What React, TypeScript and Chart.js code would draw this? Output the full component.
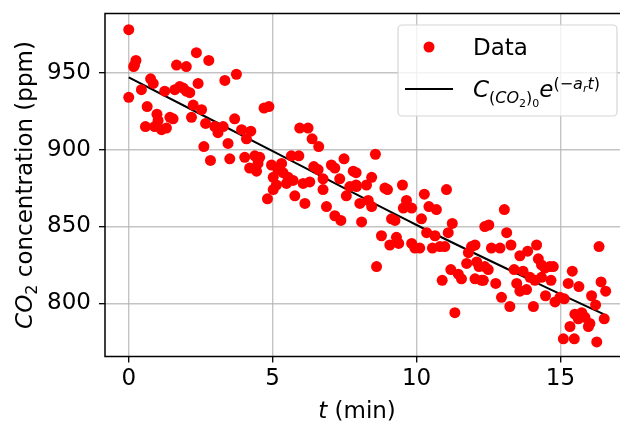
import React, { useEffect, useRef } from "react";
import { Chart, registerables } from "chart.js";
Chart.register(...registerables);

const timeMin = [
  0.0, 0.0, 0.17, 0.2, 0.25, 0.44, 0.58, 0.64, 0.76, 0.85, 0.9, 0.98, 1.02, 1.14, 1.25, 1.31, 1.43, 1.54, 1.6, 1.66,
  1.77, 1.89, 2.0, 2.0, 2.12, 2.18, 2.24, 2.35, 2.41, 2.53, 2.61, 2.67, 2.78, 2.84, 2.99, 3.1, 3.28, 3.34, 3.45, 3.51,
  3.68, 3.74, 3.92, 4.03, 4.09, 4.2, 4.24, 4.38, 4.44, 4.49, 4.55, 4.7, 4.82, 4.87, 4.96, 5.02, 5.02, 5.13, 5.19, 5.31,
  5.36, 5.48, 5.54, 5.65, 5.71, 5.77, 5.91, 5.94, 6.06, 6.12, 6.23, 6.29, 6.37, 6.43, 6.58, 6.6, 6.75, 6.75, 6.87, 7.04,
  7.16, 7.16, 7.33, 7.37, 7.48, 7.56, 7.68, 7.8, 7.9, 7.91, 7.9, 8.03, 8.09, 8.26, 8.32, 8.44, 8.44, 8.57, 8.61, 8.78,
  8.9, 8.99, 9.07, 9.13, 9.25, 9.3, 9.38, 9.51, 9.54, 9.65, 9.83, 9.83, 9.94, 10.11, 10.17, 10.27, 10.35, 10.43, 10.55, 10.64,
  10.69, 10.81, 10.89, 10.98, 11.04, 11.1, 11.19, 11.24, 11.33, 11.45, 11.56, 11.74, 11.8, 11.91, 12.03, 12.03, 12.09, 12.17, 12.26, 12.32,
  12.37, 12.37, 12.49, 12.51, 12.6, 12.75, 12.9, 12.95, 13.05, 13.13, 13.24, 13.28, 13.39, 13.48, 13.59, 13.59, 13.7, 13.82, 13.86, 13.94,
  14.06, 14.11, 14.17, 14.23, 14.34, 14.34, 14.46, 14.48, 14.63, 14.67, 14.75, 14.81, 14.98, 15.1, 15.13, 15.27, 15.33, 15.41, 15.48, 15.5,
  15.62, 15.64, 15.74, 15.85, 15.97, 16.02, 16.08, 16.22, 16.26, 16.34, 16.41, 16.52, 16.57,
];

const co2Ppm = [
  978, 934, 954, 955, 958, 939, 915, 928, 946, 943, 915, 923, 919, 913, 938, 914, 921, 920, 939, 955,
  941, 940, 938, 954, 937, 921, 929, 963, 943, 926, 902, 917, 958, 893, 915, 911, 915, 945, 904, 894,
  920, 949, 913, 895, 907, 888, 912, 896, 886, 891, 895, 927, 868, 928, 890, 874, 882, 877, 887, 891,
  885, 878, 882, 896, 880, 870, 896, 914, 878, 865, 914, 879, 907, 889, 887, 902, 881, 874, 863, 890,
  888, 857, 881, 854, 894, 870, 876, 886, 877, 876, 885, 865, 853, 877, 867, 882, 863, 897, 824, 844,
  875, 874, 838, 855, 854, 843, 839, 877, 862, 867, 862, 839, 836, 836, 855, 871, 846, 863, 836, 844,
  861, 837, 815, 837, 874, 846, 822, 852, 794, 819, 816, 826, 833, 837, 816, 838, 827, 824, 815, 815,
  850, 824, 822, 851, 836, 813, 836, 804, 861, 846, 798, 838, 822, 813, 808, 831, 821, 809, 834, 817,
  798, 815, 838, 829, 825, 817, 823, 805, 824, 815, 824, 801, 804, 777, 803, 813, 785, 821, 777, 793,
  790, 811, 794, 791, 785, 787, 805, 799, 775, 837, 814, 790, 808,
];

const fitTime = [0, 5, 10, 15, 16.5];
const fitPpm = [947, 899, 851, 806, 793];

const xTickValues = [0, 5, 10, 15];
const yTickValues = [800, 850, 900, 950];

const FONT = "'DejaVu Sans', sans-serif";

export default function App() {
  const ref = useRef<HTMLCanvasElement>(null);

  useEffect(() => {
    const canvas = ref.current!;

    const drawSeq = (
      ctx: CanvasRenderingContext2D,
      parts: { t: string; size: number; italic?: boolean; dy: number }[],
      x: number,
      y: number,
      align: "left" | "center"
    ) => {
      let total = 0;
      const widths = parts.map((p) => {
        ctx.font = `${p.italic ? "italic " : ""}${p.size}px ${FONT}`;
        const w = ctx.measureText(p.t).width;
        total += w;
        return w;
      });
      let cx = align === "center" ? x - total / 2 : x;
      ctx.textBaseline = "alphabetic";
      ctx.textAlign = "left";
      parts.forEach((p, i) => {
        ctx.font = `${p.italic ? "italic " : ""}${p.size}px ${FONT}`;
        ctx.fillText(p.t, cx, y + p.dy);
        cx += widths[i];
      });
    };

    const decor = {
      id: "decor",
      afterDatasetsDraw(chart: any) {
        const { ctx, chartArea } = chart;
        ctx.save();
        ctx.strokeStyle = "#000";
        ctx.lineWidth = 1.5;
        ctx.strokeRect(chartArea.left, chartArea.top, chartArea.right - chartArea.left, chartArea.bottom - chartArea.top);
        ctx.restore();
      },
      afterDraw(chart: any) {
        const ctx: CanvasRenderingContext2D = chart.ctx;
        ctx.save();
        ctx.fillStyle = "#000";
        // y title
        ctx.save();
        ctx.translate(32, 185);
        ctx.rotate(-Math.PI / 2);
        drawSeq(
          ctx,
          [
            { t: "CO", size: 23, italic: true, dy: 0 },
            { t: "2", size: 16, dy: 5 },
            { t: " concentration (ppm)", size: 23, dy: 0 },
          ],
          0,
          0,
          "center"
        );
        ctx.restore();
        // x title
        drawSeq(
          ctx,
          [
            { t: "t", size: 23, italic: true, dy: 0 },
            { t: " (min)", size: 23, dy: 0 },
          ],
          357,
          418,
          "center"
        );
        // legend box
        const bx = 398, by = 25, bw = 219, bh = 91, r = 4;
        ctx.beginPath();
        ctx.moveTo(bx + r, by);
        ctx.arcTo(bx + bw, by, bx + bw, by + bh, r);
        ctx.arcTo(bx + bw, by + bh, bx, by + bh, r);
        ctx.arcTo(bx, by + bh, bx, by, r);
        ctx.arcTo(bx, by, bx + bw, by, r);
        ctx.closePath();
        ctx.fillStyle = "rgba(255,255,255,0.8)";
        ctx.fill();
        ctx.strokeStyle = "#d6d6d6";
        ctx.lineWidth = 1.2;
        ctx.stroke();
        // data marker
        ctx.fillStyle = "#ff0000";
        ctx.beginPath();
        ctx.arc(429, 47, 5.5, 0, Math.PI * 2);
        ctx.fill();
        ctx.fillStyle = "#000";
        ctx.font = `23px ${FONT}`;
        ctx.textBaseline = "alphabetic";
        ctx.fillText("Data", 473, 55);
        // fit line marker
        ctx.strokeStyle = "#000";
        ctx.lineWidth = 2;
        ctx.beginPath();
        ctx.moveTo(405, 89);
        ctx.lineTo(453, 89);
        ctx.stroke();
        drawSeq(
          ctx,
          [
            { t: "C", size: 23, italic: true, dy: 0 },
            { t: "(", size: 16, dy: 6 },
            { t: "CO", size: 16, italic: true, dy: 6 },
            { t: "2", size: 11, dy: 10 },
            { t: ")", size: 16, dy: 6 },
            { t: "0", size: 11, dy: 10 },
            { t: "e", size: 23, italic: true, dy: 0 },
            { t: "(\u2212", size: 16, dy: -8 },
            { t: "a", size: 16, italic: true, dy: -8 },
            { t: "r", size: 11, italic: true, dy: -5 },
            { t: "t", size: 16, italic: true, dy: -8 },
            { t: ")", size: 16, dy: -8 },
          ],
          473,
          97,
          "left"
        );
        ctx.restore();
      },
    };

    const tickFont = { family: FONT, size: 23 };
    const zeroPad = (s: any) => {
      s.paddingTop = 0;
      s.paddingBottom = 0;
      s.paddingLeft = 0;
      s.paddingRight = 0;
    };

    const chart = new Chart(canvas, {
      type: "scatter",
      data: {
        datasets: [
          {
            label: "Data",
            data: timeMin.map((t, i) => ({ x: t, y: co2Ppm[i] })),
            backgroundColor: "#ff0000",
            borderWidth: 0,
            pointRadius: 5.5,
            pointHoverRadius: 5.5,
          },
          {
            label: "fit",
            data: fitTime.map((t, i) => ({ x: t, y: fitPpm[i] })),
            showLine: true,
            borderColor: "#000",
            borderWidth: 2,
            pointRadius: 0,
            tension: 0.4,
          },
        ],
      },
      options: {
        responsive: false,
        animation: false,
        events: [],
        layout: { autoPadding: false, padding: { left: 0, top: 13.5, right: 12.6, bottom: 0 } },
        plugins: { legend: { display: false }, tooltip: { enabled: false } },
        scales: {
          x: {
            type: "linear",
            min: -0.825,
            max: 17.325,
            afterBuildTicks: (axis: any) => {
              axis.ticks = xTickValues.map((v) => ({ value: v }));
            },
            afterFit: (scale: any) => {
              scale.height = 67.5;
              zeroPad(scale);
            },
            border: { display: false },
            grid: {
              color: "rgba(176,176,176,0.75)",
              lineWidth: 1.4,
              tickColor: "#000",
              tickLength: 6,
              tickWidth: 1.3,
            },
            ticks: { color: "#000", font: tickFont, padding: 3, maxRotation: 0 },
          },
          y: {
            type: "linear",
            min: 765.5,
            max: 988.5,
            afterBuildTicks: (axis: any) => {
              axis.ticks = yTickValues.map((v) => ({ value: v }));
            },
            afterFit: (scale: any) => {
              scale.width = 105;
              zeroPad(scale);
            },
            border: { display: false },
            grid: {
              color: "rgba(176,176,176,0.75)",
              lineWidth: 1.4,
              tickColor: "#000",
              tickLength: 6,
              tickWidth: 1.3,
            },
            ticks: { color: "#000", font: tickFont, padding: 8 },
          },
        },
      },
      plugins: [decor],
    } as any);

    return () => chart.destroy();
  }, []);

  return (
    <div
      style={{
        position: "fixed",
        left: 0,
        top: 0,
        width: 620,
        height: 424,
        overflow: "hidden",
        background: "#fff",
      }}
    >
      <canvas ref={ref} width={640} height={424} style={{ display: "block", width: 640, height: 424 }} />
    </div>
  );
}
